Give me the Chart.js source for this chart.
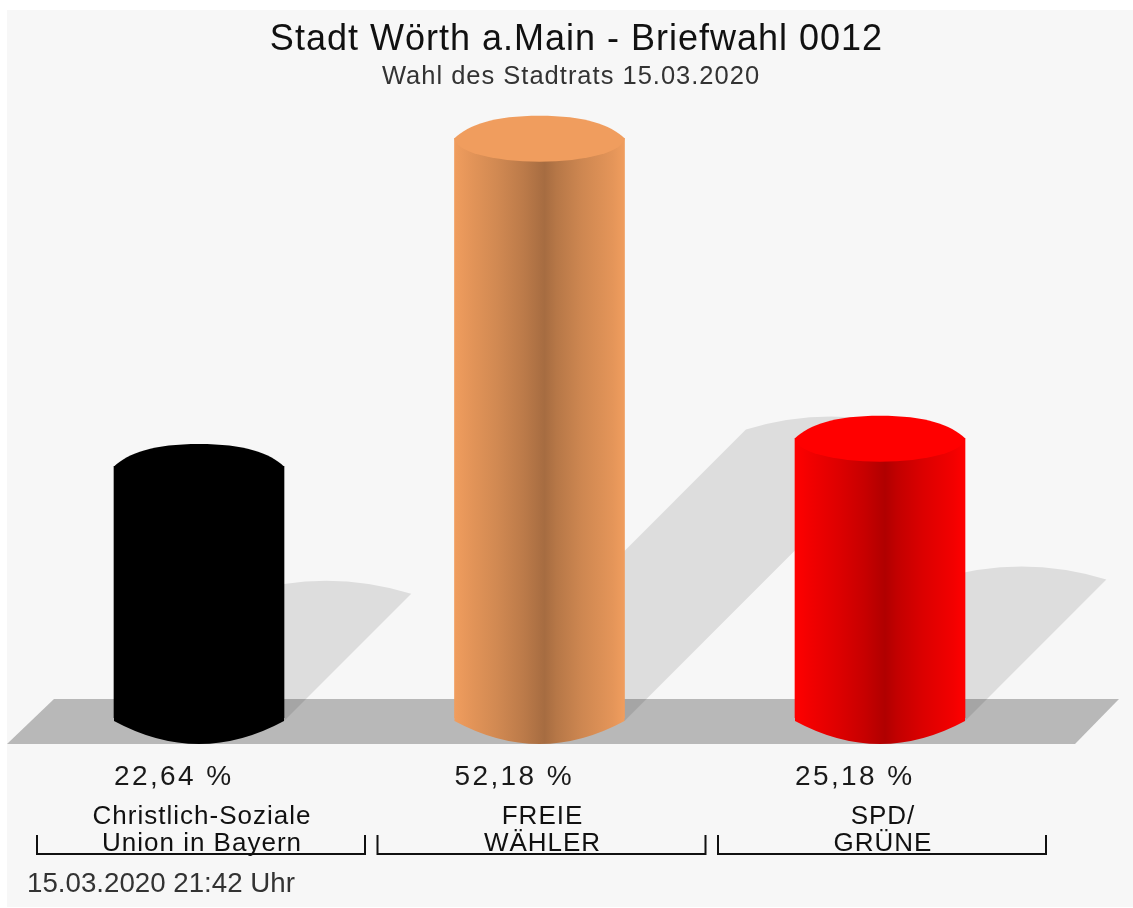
<!DOCTYPE html>
<html lang="de">
<head>
<meta charset="utf-8">
<title>Stadt Wörth a.Main - Briefwahl 0012</title>
<script src="https://cdn.jsdelivr.net/npm/chart.js@4"></script>
<style>
html,body{margin:0;padding:0;background:#fff;overflow:hidden}
canvas{display:block}
</style>
</head>
<body>
<canvas id="c" width="1133" height="908"></canvas>
<script>
const chartTitle = "Stadt Wörth a.Main - Briefwahl 0012";
const chartSubtitle = "Wahl des Stadtrats 15.03.2020";
const footerText = "15.03.2020 21:42 Uhr";
const categories = [["Christlich-Soziale","Union in Bayern"],["FREIE","WÄHLER"],["SPD/","GRÜNE"]];
const values = [22.64, 52.18, 25.18];
const baseColors = ["#000000", "#f09d5e", "#ff0000"];

const FONT = '"Liberation Sans", Arial, sans-serif';
const BAR_W = 170, RY = 22.5, BASE_DROP = 3, SHADOW = 0.5, SHADOW_ARCH = 13;
const PAGE_BG = "#f7f7f7";
const shadeStops = [[0,1],[.09,.95],[.25,.87],[.41,.78],[.53,.69],[.6,.76],[.75,.86],[.93,.95],[1,1]];

function hexRgb(h){return [1,3,5].map(i=>parseInt(h.slice(i,i+2),16));}
function bodyGradient(ctx,left,color){
  const g=ctx.createLinearGradient(left,0,left+BAR_W,0);
  const c=hexRgb(color);
  shadeStops.forEach(([p,s])=>g.addColorStop(p,`rgb(${c.map(v=>Math.round(v*s)).join(",")})`));
  return g;
}

const stage = {
  id:"stage",
  beforeDraw(chart){
    const {ctx}=chart;
    ctx.save();
    ctx.fillStyle=PAGE_BG;
    ctx.fillRect(7,10,chart.width-7,chart.height-11);
    ctx.restore();
    ctx.letterSpacing="1px";
  },
  afterLayout(chart){
    chart.boxes.forEach(b=>{
      const t=b.options&&b.options.text;
      if(t===chartTitle){b.left=37;b.right=1116;}
      if(t===chartSubtitle){b.left=26;b.right=1116;}
    });
  },
  beforeDatasetsDraw(chart){
    const {ctx,scales:{x,y}}=chart;
    const y0=y.getPixelForValue(0);
    const floorTop=y0-19, floorBottom=y0+26;
    ctx.save();
    ctx.fillStyle="#b8b8b8";
    ctx.beginPath();
    ctx.moveTo(54,floorTop);ctx.lineTo(1119,floorTop);ctx.lineTo(1075,floorBottom);ctx.lineTo(7,floorBottom);
    ctx.closePath();ctx.fill();
    ctx.fillStyle="rgba(0,0,0,0.1)";
    const yb=y0+BASE_DROP;
    values.forEach((v,i)=>{
      const cx=x.getPixelForValue(i), l=cx-BAR_W/2, r=cx+BAR_W/2;
      const d=(yb-y.getPixelForValue(v))*SHADOW;
      ctx.beginPath();
      ctx.moveTo(l,yb);
      ctx.lineTo(l+d,yb-d);
      ctx.quadraticCurveTo(cx+d,yb-d-2*SHADOW_ARCH,r+d,yb-d);
      ctx.lineTo(r,yb);
      ctx.closePath();ctx.fill();
    });
    ctx.restore();
  },
  afterDatasetsDraw(chart){
    const {ctx,scales:{x,y}}=chart;
    const y0=y.getPixelForValue(0);
    const yb=y0+BASE_DROP;
    ctx.save();
    values.forEach((v,i)=>{
      const cx=x.getPixelForValue(i), l=cx-BAR_W/2, r=cx+BAR_W/2, yt=y.getPixelForValue(v);
      ctx.fillStyle=bodyGradient(ctx,l,baseColors[i]);
      ctx.beginPath();
      ctx.moveTo(l,y0-1);ctx.lineTo(r,y0-1);ctx.lineTo(r,yb);
      ctx.quadraticCurveTo(cx,yb+2*RY+1,l,yb);
      ctx.closePath();
      ctx.fill();
      ctx.fillStyle=baseColors[i];
      ctx.beginPath();
      ctx.moveTo(l,yt);
      ctx.bezierCurveTo(l+14,yt-0.6*RY,cx-45,yt-RY,cx,yt-RY);
      ctx.bezierCurveTo(cx+45,yt-RY,r-14,yt-0.6*RY,r,yt);
      ctx.ellipse(cx,yt,BAR_W/2,RY+1,0,0,Math.PI);
      ctx.closePath();
      ctx.fill();
    });
    ctx.restore();
  },
  afterDraw(chart){
    const {ctx,scales:{x,y}}=chart;
    ctx.save();
    ctx.textBaseline="middle";ctx.textAlign="left";
    ctx.fillStyle="#1a1a1a";
    ctx.font=`28px ${FONT}`;ctx.letterSpacing="2.4px";
    values.forEach((v,i)=>{
      ctx.fillText(v.toFixed(2).replace(".",",")+" %",x.getPixelForValue(i)-BAR_W/2,y.getPixelForValue(0)+59);
    });
    ctx.fillStyle="#333";
    ctx.font=`27.7px ${FONT}`;ctx.letterSpacing="0px";
    ctx.fillText(footerText,27,884);
    ctx.strokeStyle="#111";ctx.lineWidth=2;
    values.forEach((v,i)=>{
      const cx=x.getPixelForValue(i);
      ctx.beginPath();
      ctx.moveTo(cx-162,835);ctx.lineTo(cx-162,854);ctx.lineTo(cx+166,854);ctx.lineTo(cx+166,835);
      ctx.stroke();
    });
    ctx.restore();
  }
};

new Chart(document.getElementById("c"),{
  type:"bar",
  data:{labels:categories,datasets:[{
    data:values,
    barThickness:BAR_W,
    borderWidth:0,
    backgroundColor:(c)=>{
      const sx=c.chart.scales.x;
      const px=sx&&c.dataIndex!==undefined?sx.getPixelForValue(c.dataIndex):NaN;
      if(!Number.isFinite(px)) return baseColors[c.dataIndex||0];
      return bodyGradient(c.chart.ctx,px-BAR_W/2,baseColors[c.dataIndex]);
    }
  }]},
  options:{
    responsive:false,animation:false,devicePixelRatio:1,
    layout:{padding:{left:28.75,right:82.75,top:0,bottom:0}},
    plugins:{
      legend:{display:false},tooltip:{enabled:false},
      title:{display:true,text:chartTitle,color:"#111",font:{family:FONT,size:36,weight:"normal",lineHeight:1.2},padding:{top:18,bottom:0}},
      subtitle:{display:true,text:chartSubtitle,color:"#333",font:{family:FONT,size:25.5,weight:"normal",lineHeight:1.2},padding:{top:0,bottom:4}}
    },
    scales:{
      x:{
        offset:true,
        grid:{display:false,drawTicks:false},border:{display:false},
        afterFit:(s)=>{s.height=190;},
        ticks:{autoRotate:false,maxRotation:0,autoSkip:false,padding:85,labelOffset:3,color:"#111",
          font:{family:FONT,size:26,weight:"normal",lineHeight:1.04}}
      },
      y:{display:false,min:0,max:56}
    }
  },
  plugins:[stage]
});
</script>
</body>
</html>
